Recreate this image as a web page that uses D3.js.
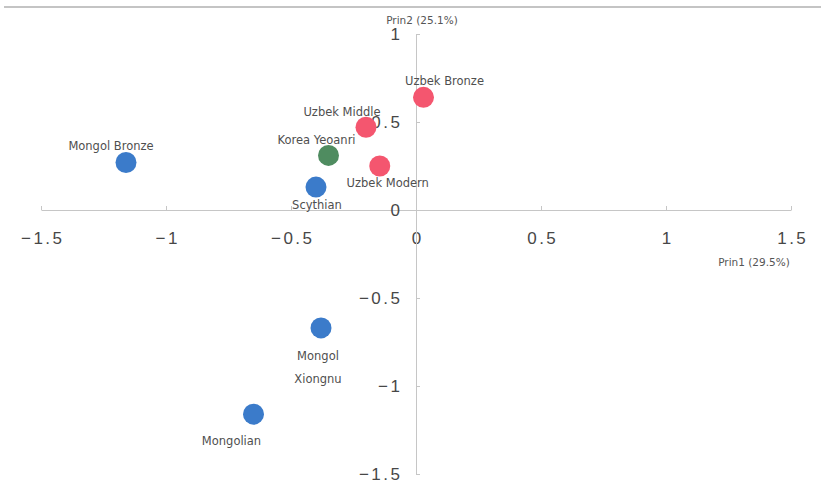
<!DOCTYPE html>
<html>
<head>
<meta charset="utf-8">
<script src="https://cdn.jsdelivr.net/npm/d3@7"></script>
<style>
  body { margin: 0; background: #fff; }
  svg { display: block; }
</style>
</head>
<body>
<div class="container"></div>
<script>
// DATA
const populations = ["Mongol Bronze", "Scythian", "Korea Yeoanri", "Uzbek Middle",
                     "Uzbek Modern", "Uzbek Bronze", "Mongol Xiongnu", "Mongolian"];
const prin1 = [-1.16, -0.40, -0.35, -0.20, -0.145, 0.03, -0.38, -0.65];
const prin2 = [0.27, 0.13, 0.31, 0.47, 0.25, 0.64, -0.67, -1.16];
const groups = ["Mongol", "Mongol", "Korea", "Uzbek", "Uzbek", "Uzbek", "Mongol", "Mongol"];

const xTicks = [-1.5, -1, -0.5, 0, 0.5, 1, 1.5];
const yTicks = [-1.5, -1, -0.5, 0, 0.5, 1];
const xTitle = "Prin1 (29.5%)";
const yTitle = "Prin2 (25.1%)";

// SETUP
const width = 821;
const height = 499;

const colour = d3.scaleOrdinal()
    .domain(["Mongol", "Uzbek", "Korea"])
    .range(["#3b7bca", "#f4566f", "#4f8c60"]);

// label placement relative to each dot (pixels), plus line breaks
const labelPos = {
  "Mongol Bronze":  {dx: -15, dy: -16, lines: ["Mongol Bronze"]},
  "Scythian":       {dx: 1,   dy: 18,  lines: ["Scythian"]},
  "Korea Yeoanri":  {dx: -12, dy: -15, lines: ["Korea Yeoanri"]},
  "Uzbek Middle":   {dx: -24, dy: -15, lines: ["Uzbek Middle"]},
  "Uzbek Modern":   {dx: 8,   dy: 17,  lines: ["Uzbek Modern"]},
  "Uzbek Bronze":   {dx: 21,  dy: -16, lines: ["Uzbek Bronze"]},
  "Mongol Xiongnu": {dx: -3,  dy: 28,  lines: ["Mongol", "Xiongnu"]},
  "Mongolian":      {dx: -22, dy: 27,  lines: ["Mongolian"]}
};

const data = populations.map((p, i) => ({name: p, x: prin1[i], y: prin2[i], group: groups[i]}));

const xScale = d3.scaleLinear().domain([-1.5, 1.5]).range([41, 791]);
const yScale = d3.scaleLinear().domain([-1.5, 1]).range([474, 34]);

const svg = d3.select(".container")
    .append("svg")
    .attr("width", width)
    .attr("height", height);

// thin grey rule at the very top
svg.append("line")
    .attr("x1", 4).attr("x2", width)
    .attr("y1", 7).attr("y2", 7)
    .attr("stroke", "#c4c4c4")
    .attr("stroke-width", 2);

const fmt = d => d3.format("")(d).replace("-", "\u2212");

// X AXIS - crosses at y = 0, ticks point up
const xAxis = svg.append("g")
    .attr("transform", `translate(0,${yScale(0)})`)
    .call(d3.axisBottom(xScale)
        .tickValues(xTicks)
        .tickFormat(fmt)
        .tickSizeInner(-4)
        .tickSizeOuter(0)
        .tickPadding(22));

// Y AXIS - crosses at x = 0, ticks point right, labels on the left
const yAxis = svg.append("g")
    .attr("transform", `translate(${xScale(0)},0)`)
    .call(d3.axisLeft(yScale)
        .tickValues(yTicks)
        .tickFormat(fmt)
        .tickSizeInner(-4)
        .tickSizeOuter(0)
        .tickPadding(13.5));

[xAxis, yAxis].forEach(g => {
  g.select(".domain").attr("stroke", "#c6c6c6");
  g.selectAll(".tick line").attr("stroke", "#c6c6c6");
  g.selectAll(".tick text")
      .attr("fill", "#474747")
      .style("font-family", "Liberation Sans, Arial, sans-serif")
      .style("font-size", "17px")
      .style("letter-spacing", "2.5px");
});
// letter-spacing adds a trailing gap, re-centre the x labels
xAxis.selectAll(".tick text").attr("dx", 1.25);

// axis titles
svg.append("text")
    .attr("x", 422).attr("y", 24)
    .attr("text-anchor", "middle")
    .attr("fill", "#555")
    .style("font-family", "DejaVu Sans, sans-serif")
    .style("font-size", "10.5px")
    .text(yTitle);

svg.append("text")
    .attr("x", 754).attr("y", 266)
    .attr("text-anchor", "middle")
    .attr("fill", "#555")
    .style("font-family", "DejaVu Sans, sans-serif")
    .style("font-size", "10.5px")
    .text(xTitle);

// DOTS
svg.selectAll("circle.dot")
    .data(data)
    .enter()
    .append("circle")
    .attr("class", "dot")
    .attr("cx", d => xScale(d.x))
    .attr("cy", d => yScale(d.y))
    .attr("r", 10.5)
    .attr("fill", d => colour(d.group));

// LABELS
const labels = svg.selectAll("text.label")
    .data(data)
    .enter()
    .append("text")
    .attr("class", "label")
    .attr("text-anchor", "middle")
    .attr("fill", "#4f4f4f")
    .style("font-family", "DejaVu Sans, sans-serif")
    .style("font-size", "11.5px")
    .attr("x", d => xScale(d.x) + labelPos[d.name].dx)
    .attr("y", d => yScale(d.y) + labelPos[d.name].dy + 4);

labels.each(function(d) {
  const t = d3.select(this);
  labelPos[d.name].lines.forEach((line, i) => {
    t.append("tspan")
        .attr("x", xScale(d.x) + labelPos[d.name].dx)
        .attr("dy", i === 0 ? 0 : 23)
        .text(line);
  });
});
</script>
</body>
</html>
